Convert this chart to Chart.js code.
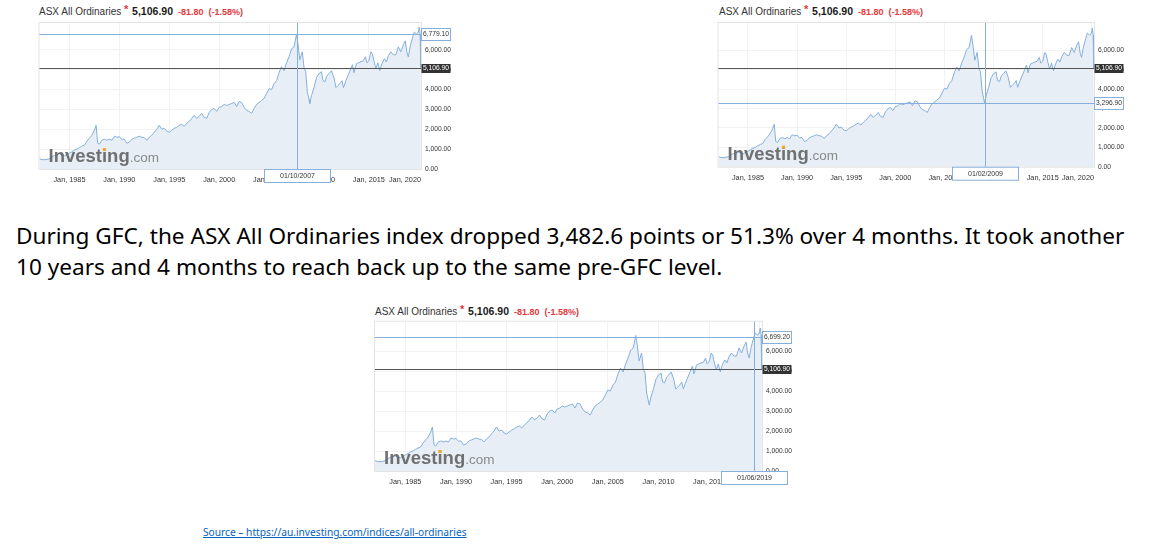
<!DOCTYPE html>
<html>
<head>
<meta charset="utf-8">
<script src="https://cdn.jsdelivr.net/npm/chart.js@4.4.0/dist/chart.umd.min.js"></script>
<style>
  body { margin: 0; width: 1162px; height: 547px; background: #fff; position: relative; overflow: hidden;
         font-family: Arial, "Liberation Sans", sans-serif; }
  canvas { position: absolute; }
  .title { position: absolute; white-space: nowrap; font-size: 10px; color: #333; line-height: 12px; }
  .title .star { color: #e4393c; font-size: 11px; font-weight: bold; vertical-align: 2px; }
  .title .last { color: #1a1a1a; font-weight: bold; font-size: 10.5px; margin-left: 1px; }
  .title .chg { color: #e4393c; font-weight: bold; font-size: 9px; margin-left: 5px; }
  .note { position: absolute; left: 16px; top: 220px; font-family: "Noto Sans", "Open Sans", sans-serif;
          font-size: 22.6px; line-height: 31px; color: #000; white-space: nowrap; }
  .src { position: absolute; left: 203px; top: 525px; font-family: "Noto Sans", "Open Sans", sans-serif;
         font-size: 10.2px; color: #0563c1; text-decoration: underline; white-space: nowrap; }
</style>
</head>
<body>

<div class="title" style="left:39px;top:3px">ASX All Ordinaries <span class="star">*</span> <span class="last">5,106.90</span><span class="chg">-81.80</span><span class="chg">(-1.58%)</span></div>
<canvas id="c1" width="426" height="175" style="left:30px;top:15px"></canvas>

<div class="title" style="left:719px;top:3px">ASX All Ordinaries <span class="star">*</span> <span class="last">5,106.90</span><span class="chg">-81.80</span><span class="chg">(-1.58%)</span></div>
<canvas id="c2" width="419" height="175" style="left:710px;top:15px"></canvas>

<div class="title" style="left:375px;top:303px">ASX All Ordinaries <span class="star">*</span> <span class="last">5,106.90</span><span class="chg">-81.80</span><span class="chg">(-1.58%)</span></div>
<canvas id="c3" width="432" height="185" style="left:365px;top:310px"></canvas>

<div class="note">During GFC, the ASX All Ordinaries index dropped 3,482.6 points or 51.3% over 4 months. It took another<br>10 years and 4 months to reach back up to the same pre-GFC level.</div>
<div class="src">Source – https://au.investing.com/indices/all-ordinaries</div>

<script>
// ASX All Ordinaries (decimal year, close)
var dates = [
  1982.0, 1982.25, 1982.5, 1982.75, 1983.0, 1983.25, 1983.5, 1983.75,
  1984.0, 1984.25, 1984.5, 1984.75, 1985.0, 1985.25, 1985.5, 1985.75,
  1986.0, 1986.25, 1986.5, 1986.75, 1987.0, 1987.25, 1987.5, 1987.67, 1987.83,
  1988.0, 1988.25, 1988.5, 1988.75, 1989.0, 1989.25, 1989.5, 1989.75,
  1990.0, 1990.25, 1990.5, 1990.75, 1991.0, 1991.25, 1991.5, 1991.75,
  1992.0, 1992.25, 1992.5, 1992.75, 1993.0, 1993.25, 1993.5, 1993.75,
  1994.0, 1994.25, 1994.5, 1994.75, 1995.0, 1995.25, 1995.5, 1995.75,
  1996.0, 1996.25, 1996.5, 1996.75, 1997.0, 1997.25, 1997.5, 1997.75,
  1998.0, 1998.25, 1998.5, 1998.75, 1999.0, 1999.25, 1999.5, 1999.75,
  2000.0, 2000.25, 2000.5, 2000.75, 2001.0, 2001.25, 2001.5, 2001.75,
  2002.0, 2002.25, 2002.5, 2002.75, 2003.0, 2003.25, 2003.5, 2003.75,
  2004.0, 2004.25, 2004.5, 2004.75, 2005.0, 2005.25, 2005.5, 2005.75,
  2006.0, 2006.25, 2006.5, 2006.75, 2007.0, 2007.25, 2007.5, 2007.75, 2007.92,
  2008.08, 2008.33, 2008.5, 2008.67, 2008.83, 2009.0, 2009.08, 2009.25, 2009.5, 2009.75,
  2010.0, 2010.25, 2010.4, 2010.6, 2010.8, 2011.0, 2011.25, 2011.5, 2011.7, 2011.9,
  2012.1, 2012.3, 2012.45, 2012.7, 2012.9, 2013.2, 2013.35, 2013.5, 2013.75, 2013.95,
  2014.2, 2014.45, 2014.65, 2014.8, 2015.0, 2015.2, 2015.35, 2015.5, 2015.7, 2015.9,
  2016.1, 2016.3, 2016.55, 2016.75, 2016.95, 2017.2, 2017.45, 2017.7, 2017.95,
  2018.2, 2018.45, 2018.65, 2018.8, 2018.95, 2019.15, 2019.42, 2019.55, 2019.75, 2019.92,
  2020.05, 2020.13, 2020.2
];
var closes = [
  520, 470, 470, 480, 520, 610, 680, 720,
  760, 700, 660, 740, 800, 870, 950, 1000,
  1080, 1150, 1200, 1400, 1550, 1700, 1950, 2200, 1300,
  1250, 1450, 1500, 1450, 1500, 1450, 1650, 1600,
  1620, 1500, 1500, 1300, 1350, 1500, 1550, 1600,
  1650, 1600, 1580, 1450, 1600, 1700, 1850, 2000,
  2200, 2000, 2050, 1900, 1850, 1950, 2050, 2100,
  2200, 2250, 2150, 2300, 2400, 2550, 2700, 2550,
  2650, 2800, 2600, 2550, 2850, 3000, 3050, 2900,
  3100, 3150, 3250, 3200, 3250, 3300, 3350, 3150,
  3400, 3350, 3100, 2950, 2900, 2800, 3050, 3250,
  3350, 3450, 3550, 3800, 4050, 4000, 4300, 4450,
  4850, 5150, 4950, 5350, 5650, 6050, 6150, 6779.1, 6200,
  5500, 5900, 5100, 4900, 3900, 3500, 3296.9, 3700, 4100, 4600,
  4800, 4900, 4450, 4400, 4700, 4800, 4950, 4600, 4100, 4200,
  4300, 4450, 4100, 4450, 4700, 5050, 5250, 4850, 5300, 5350,
  5400, 5450, 5650, 5350, 5450, 5900, 5800, 5450, 5050, 5350,
  4950, 5300, 5550, 5400, 5700, 5900, 5750, 5750, 6150,
  5900, 6250, 6450, 5900, 5650, 6200, 6699.2, 6900, 6800, 6850,
  7150, 6800, 5106.9
];

var xTickYears = [1985, 1990, 1995, 2000, 2005, 2010, 2015, 2020];
var yTickValues = [0, 1000, 2000, 3000, 4000, 5000, 6000];
var lastClose = 5106.9;

// one crosshair per snapshot
var crossDates = [2007.75, 2009.08, 2019.42];
var crossValues = [6779.1, 3296.9, 6699.2];
var crossDateLabels = ['01/10/2007', '01/02/2009', '01/06/2019'];

var FONT = 'Arial, "Liberation Sans", sans-serif';
var BLUE = '#86b0dc';

function fmt(v) {
  return v.toLocaleString('en-US', { minimumFractionDigits: 2, maximumFractionDigits: 2 });
}

var investingPlugin = {
  id: 'investing',
  beforeDatasetsDraw: function(chart) {
    var ctx = chart.ctx, a = chart.chartArea;
    ctx.save();
    ctx.strokeStyle = '#e3e3e3';
    ctx.lineWidth = 1;
    ctx.strokeRect(a.left - 0.5, a.top - 0.5, a.right - a.left + 1, a.bottom - a.top + 1);
    ctx.restore();
  },
  afterDatasetsDraw: function(chart, args, o) {
    var ctx = chart.ctx, a = chart.chartArea;
    var x = chart.scales.x, y = chart.scales.y;
    ctx.save();

    // watermark
    var lx = a.left + 9, ly = a.bottom - 7;
    ctx.textBaseline = 'alphabetic';
    ctx.textAlign = 'left';
    ctx.font = 'bold 18.5px ' + FONT;
    ctx.fillStyle = 'rgba(95,95,95,0.88)';
    ctx.fillText('Investing', lx, ly);
    var w = ctx.measureText('Investing').width;
    var wi = ctx.measureText('Invest').width + ctx.measureText('i').width / 2;
    ctx.fillStyle = '#f0a830';
    ctx.fillRect(lx + wi - 1.6, ly - 14, 3.2, 3);
    ctx.font = '13.5px ' + FONT;
    ctx.fillStyle = 'rgba(120,120,120,0.85)';
    ctx.fillText('.com', lx + w, ly);

    // x labels, kept inside the plot
    ctx.font = '7.3px ' + FONT;
    ctx.fillStyle = '#333';
    ctx.textBaseline = 'middle';
    ctx.textAlign = 'center';
    xTickYears.forEach(function(yr) {
      var t = 'Jan, ' + yr;
      var tw = ctx.measureText(t).width;
      var px = x.getPixelForValue(yr);
      if (px + tw / 2 > a.right) px = a.right - tw / 2;
      ctx.fillText(t, px, a.bottom + 11);
    });

    // last close line
    var py = Math.round(y.getPixelForValue(lastClose)) + 0.5;
    ctx.strokeStyle = '#555';
    ctx.lineWidth = 1.2;
    ctx.beginPath(); ctx.moveTo(a.left, py); ctx.lineTo(a.right, py); ctx.stroke();

    // crosshair
    var cy = Math.round(y.getPixelForValue(o.value)) + 0.5;
    var cx = Math.round(x.getPixelForValue(o.date)) + 0.5;
    ctx.strokeStyle = BLUE;
    ctx.lineWidth = 1;
    ctx.beginPath(); ctx.moveTo(a.left, cy); ctx.lineTo(a.right, cy); ctx.stroke();
    ctx.beginPath(); ctx.moveTo(cx, a.top); ctx.lineTo(cx, a.bottom); ctx.stroke();

    // value boxes on the axis
    ctx.font = '6.7px ' + FONT;
    ctx.textAlign = 'left';
    ctx.fillStyle = '#333';
    ctx.fillRect(a.right + 0.5, py - 4.5, 29, 9);
    ctx.fillStyle = '#fff';
    ctx.fillText(fmt(lastClose), a.right + 2, py);

    ctx.fillStyle = '#fff';
    ctx.fillRect(a.right + 0.5, cy - 6, 29, 12);
    ctx.strokeStyle = BLUE;
    ctx.strokeRect(a.right + 0.5, cy - 6, 29, 12);
    ctx.fillStyle = '#333';
    ctx.fillText(fmt(o.value), a.right + 2, cy);

    // date box under the crosshair
    ctx.fillStyle = '#fff';
    ctx.fillRect(cx - 33, a.bottom + 0.5, 66, 13);
    ctx.strokeStyle = BLUE;
    ctx.strokeRect(cx - 33, a.bottom + 0.5, 66, 13);
    ctx.fillStyle = '#333';
    ctx.textAlign = 'center';
    ctx.font = '7px ' + FONT;
    ctx.fillText(o.label, cx, a.bottom + 7);

    ctx.restore();
  }
};

function makeChart(id, i, pad, ymax) {
  var points = dates.map(function(d, k) { return { x: d, y: closes[k] }; });
  return new Chart(document.getElementById(id), {
    type: 'line',
    data: {
      datasets: [{
        data: points,
        borderColor: BLUE,
        borderWidth: 1,
        backgroundColor: '#e7eef5',
        fill: 'origin',
        pointRadius: 0,
        tension: 0
      }]
    },
    plugins: [investingPlugin],
    options: {
      responsive: false,
      animation: false,
      devicePixelRatio: 1,
      layout: { padding: pad },
      plugins: {
        legend: { display: false },
        tooltip: { enabled: false },
        investing: { date: crossDates[i], value: crossValues[i], label: crossDateLabels[i] }
      },
      scales: {
        x: {
          type: 'linear', min: 1982, max: 2020.22,
          afterBuildTicks: function(s) { s.ticks = xTickYears.map(function(v) { return { value: v }; }); },
          ticks: { display: false },
          grid: { color: '#f2f2f2', drawTicks: false },
          border: { display: false }
        },
        y: {
          position: 'right', min: 0, max: ymax,
          afterBuildTicks: function(s) { s.ticks = yTickValues.map(function(v) { return { value: v }; }); },
          afterFit: function(s) { s.width = 31; },
          ticks: {
            padding: 4, color: '#333',
            font: { size: 6.7, family: FONT },
            callback: function(v) { return fmt(v); }
          },
          grid: { color: '#f2f2f2', drawTicks: false },
          border: { display: false }
        }
      }
    }
  });
}

makeChart('c1', 0, { left: 9.5, top: 7, right: 4, bottom: 21 }, 7350);
makeChart('c2', 1, { left: 8.5, top: 7, right: 4, bottom: 23.3 }, 7420);
makeChart('c3', 2, { left: 10, top: 11.7, right: 4, bottom: 24 }, 7465);
</script>
</body>
</html>
